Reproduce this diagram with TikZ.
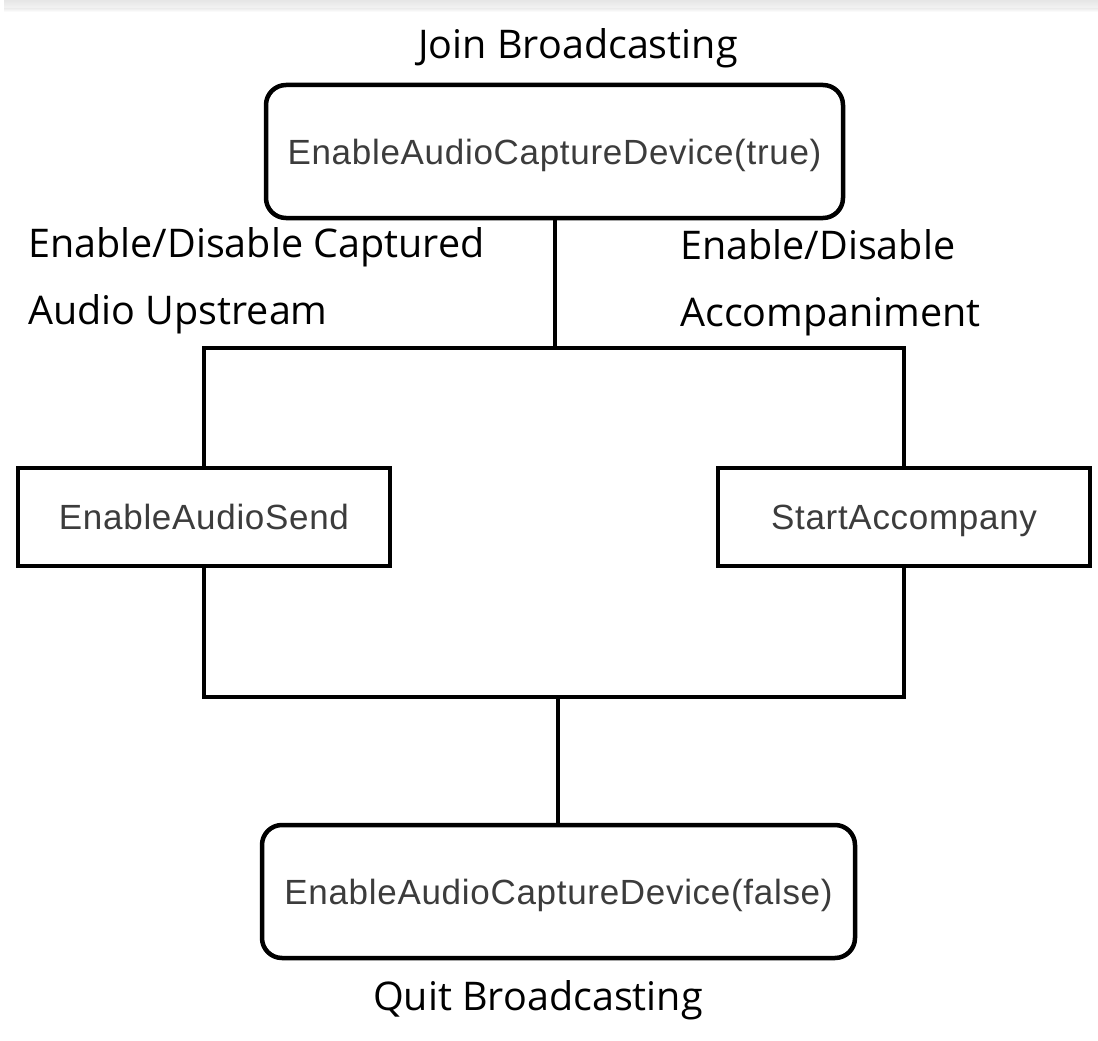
\documentclass[tikz,border=0pt]{standalone}
\usepackage{fontspec}
\setmainfont{Open Sans}
\newfontfamily\boxfont[LetterSpace=2]{Liberation Sans}
\definecolor{boxtext}{HTML}{3C3C3C}
\begin{document}
\begin{tikzpicture}[x=1pt,y=-1pt,
  wire/.style={line width=4.5pt},
  stepbox/.style={draw, line width=4.5pt, fill=white, inner sep=0pt,
    font=\boxfont\fontsize{35}{40}\selectfont, text=boxtext,
    text height=25pt, text depth=0pt},
  roundbox/.style={stepbox, rounded corners=20pt},
  caption/.style={font=\fontsize{39.5}{45}\selectfont, text=black, inner sep=0pt,
    text height=28pt, text depth=0pt},
  sidelabel/.style={caption, anchor=west}]
  \useasboundingbox (0,0) rectangle (1098,1041);
  \fill[white] (0,0) rectangle (1098,1041);
  % thin shaded strip along the top edge
  \shade[top color=black!10, bottom color=black!4] (4,0) rectangle (1098,9);
  \shade[top color=black!6, bottom color=white] (4,9) rectangle (1098,12);

  % boxes
  \node[roundbox, minimum width=577pt, minimum height=133pt] (top) at (554.5,151.5)
    {EnableAudioCaptureDevice(true)};
  \node[stepbox, minimum width=372pt, minimum height=98pt] (send) at (204,517)
    {EnableAudioSend};
  \node[stepbox, minimum width=372pt, minimum height=98pt] (acc) at (904,517)
    {StartAccompany};
  \node[roundbox, minimum width=593pt, minimum height=133pt] (bot) at (558.5,891.5)
    {EnableAudioCaptureDevice(false)};

  % captions
  \node[caption] (join) at (578,45) {Join Broadcasting};
  \node[caption] (quit) at (538,996) {Quit Broadcasting};
  \node[sidelabel] (capA) at (28,243) {Enable/Disable Captured};
  \node[sidelabel] (capB) at (28,310) {Audio Upstream};
  \node[sidelabel] (accA) at (680,245) {Enable/Disable};
  \node[sidelabel] (accB) at (680,312) {Accompaniment};

  % junctions
  \coordinate (jt) at (555,348);
  \coordinate (jb) at (558,697);

  % connectors
  \draw[wire] (top.south -| jt) -- (jt);
  \draw[wire] (send.north) |- (jt) -| (acc.north);
  \draw[wire] (send.south) |- (jb) -| (acc.south);
  \draw[wire] (jb) -- (bot.north -| jb);
\end{tikzpicture}
\end{document}
